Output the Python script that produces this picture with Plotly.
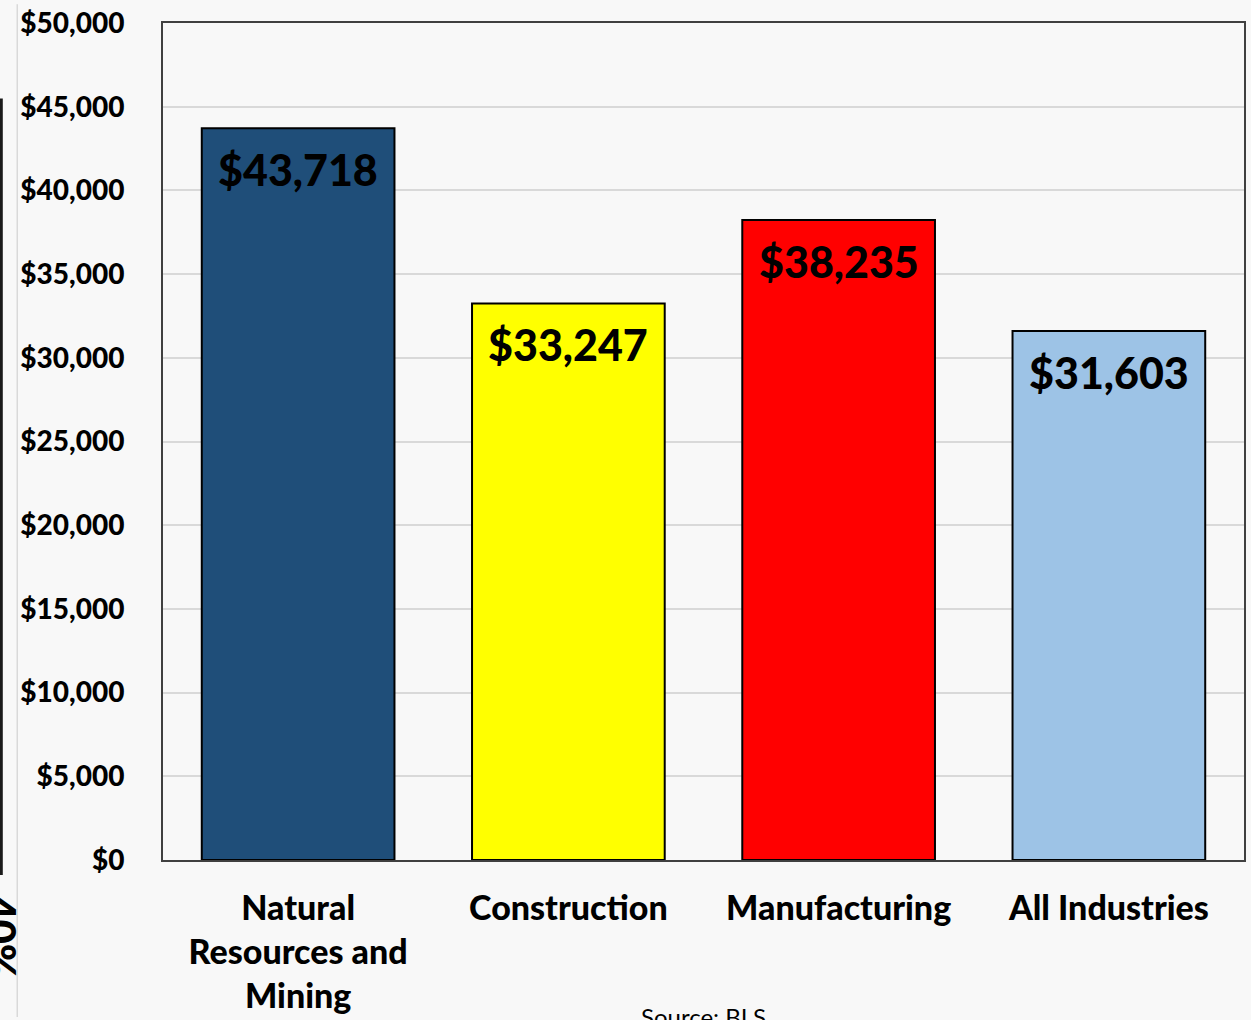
import plotly.graph_objects as go

categories = ["Natural<br>Resources and<br>Mining", "Construction", "Manufacturing", "All Industries"]
values = [43718, 33247, 38235, 31603]
bar_colors = ["#1F4E79", "#FFFF00", "#FF0000", "#9DC3E6"]
tick_vals = [0, 5000, 10000, 15000, 20000, 25000, 30000, 35000, 40000, 45000, 50000]
tick_text = ["$0", "$5,000", "$10,000", "$15,000", "$20,000", "$25,000", "$30,000",
             "$35,000", "$40,000", "$45,000", "$50,000"]
value_labels = ["${:,}".format(v) for v in values]

W, H = 1251, 1020
ML, MR, MT, MB = 163, 5, 19, 158
PW = W - ML - MR
PH = H - MT - MB

def px_x(p):
    return (p - ML) / PW

def px_y(p):
    return (H - MB - p) / PH

BG = "#f8f8f8"
FONT = "Lato"

fig = go.Figure()
fig.add_trace(go.Bar(
    x=categories, y=values,
    marker=dict(color=bar_colors, line=dict(color="#000000", width=2)),
    width=0.713,
    hoverinfo="skip",
))

for c, v, t in zip(categories, values, value_labels):
    fig.add_annotation(x=c, y=v, xref="x", yref="y", text=t,
                       showarrow=False, yanchor="top", yshift=-14,
                       font=dict(family=FONT, size=43, color="#000000", weight=900))

fig.add_annotation(x=0.5, y=px_y(1003), xref="paper", yref="paper", text="Source: BLS",
                   showarrow=False, xanchor="center", yanchor="top",
                   font=dict(family=FONT, size=24, color="#000000"))

fig.add_annotation(x=px_x(0), y=px_y(939), xref="paper", yref="paper", text="40%",
                   showarrow=False, xanchor="center", yanchor="middle", textangle=90,
                   font=dict(family=FONT, size=42, color="#000000", weight=900))

fig.add_shape(type="line", xref="paper", yref="paper",
              x0=px_x(17), x1=px_x(17), y0=px_y(H), y1=px_y(0),
              line=dict(color="#d9d9d9", width=1.5))
fig.add_shape(type="line", xref="paper", yref="paper",
              x0=px_x(1), x1=px_x(1), y0=px_y(877), y1=px_y(95),
              line=dict(color="#1a1a1a", width=3))

fig.update_layout(
    width=W, height=H,
    margin=dict(l=ML, r=MR, t=MT, b=MB, pad=0),
    paper_bgcolor=BG, plot_bgcolor=BG,
    showlegend=False,
    bargap=0.287,
    font=dict(family=FONT, color="#000000"),
)
fig.update_xaxes(
    showline=True, mirror=True, linecolor="#404040", linewidth=2,
    tickfont=dict(family=FONT, size=34, color="#000000", weight=900),
    ticks="", ticklabelstandoff=17, showgrid=False,
)
fig.update_yaxes(
    range=[0, 50000], tickvals=tick_vals, ticktext=tick_text,
    showline=True, mirror=True, linecolor="#404040", linewidth=2,
    showgrid=True, gridcolor="#d9d9d9", gridwidth=2, zeroline=False,
    tickfont=dict(family=FONT, size=28, color="#000000", weight=900),
    ticks="", ticklabelstandoff=31,
)

fig.write_html("out.html", config={"displayModeBar": False},
               post_script="document.body.style.margin='0';document.body.style.overflow='hidden';")
